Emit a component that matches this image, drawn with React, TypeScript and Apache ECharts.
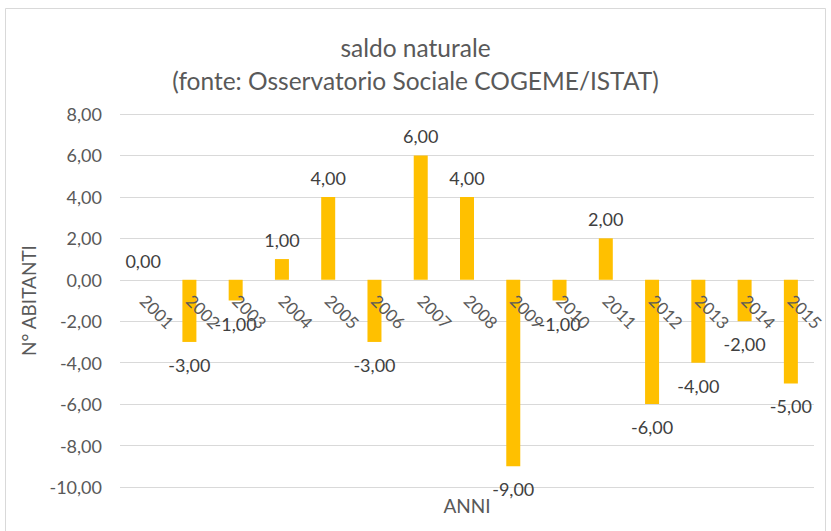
import React, { useEffect, useRef } from "react";
import * as echarts from "echarts";

const years = ["2001","2002","2003","2004","2005","2006","2007","2008","2009","2010","2011","2012","2013","2014","2015"];
const saldo = [0, -3, -1, 1, 4, -3, 6, 4, -9, -1, 2, -6, -4, -2, -5];
const yMin = -10;
const yMax = 8;
const yStep = 2;

const fmt = (v: number) => v.toFixed(2).replace(".", ",");
const FONT = "Lato, 'Open Sans', sans-serif";

const GRID_TOP = 114;
const GRID_BOTTOM = 44;
const H = 531;

export default function App() {
  const ref = useRef<HTMLDivElement>(null);
  useEffect(() => {
    if (!ref.current) return;
    const chart = echarts.init(ref.current, null, { renderer: "svg" });
    const plotH = H - GRID_TOP - GRID_BOTTOM;
    const zeroFromBottom = (plotH * (0 - yMin)) / (yMax - yMin);
    chart.setOption({
      animation: false,
      backgroundColor: "#ffffff",
      textStyle: { fontFamily: FONT },
      title: {
        text: "saldo naturale\n(fonte: Osservatorio Sociale COGEME/ISTAT)",
        left: "center",
        top: 26,
        textStyle: { fontFamily: FONT, fontSize: 24.5, fontWeight: "normal", color: "#595959", lineHeight: 33 },
      },
      graphic: [
        {
          type: "rect",
          shape: { x: 5.5, y: 8.5, width: 820, height: 540 },
          style: { fill: "none", stroke: "#d9d9d9", lineWidth: 1 },
          silent: true,
        },
        {
          type: "text",
          x: 467,
          y: 505,
          style: { text: "ANNI", fill: "#595959", font: `19px ${FONT}`, textAlign: "center", textVerticalAlign: "middle" },
        },
      ],
      grid: { left: 120, right: 17, top: GRID_TOP, bottom: GRID_BOTTOM },
      xAxis: {
        type: "category",
        data: years,
        offset: -zeroFromBottom,
        z: 10,
        axisLine: { show: false, onZero: false },
        axisTick: { show: false },
        axisLabel: { rotate: -45, margin: 18, fontSize: 17, color: "#595959", fontFamily: FONT },
      },
      yAxis: {
        type: "value",
        min: yMin,
        max: yMax,
        interval: yStep,
        name: "N° ABITANTI",
        nameLocation: "middle",
        nameGap: 82,
        nameTextStyle: { fontSize: 19, color: "#595959", fontFamily: FONT },
        axisLine: { show: false },
        axisTick: { show: false },
        splitLine: { lineStyle: { color: "#d9d9d9" } },
        axisLabel: { formatter: (v: number) => fmt(v), fontSize: 18, color: "#595959", margin: 18, fontFamily: FONT },
      },
      series: [
        {
          type: "bar",
          barWidth: 14,
          itemStyle: { color: "#FFC000" },
          data: saldo.map((v) => ({
            value: v,
            label: {
              show: true,
              position: v < 0 ? "bottom" : "top",
              distance: v < 0 ? 14 : 10,
              formatter: () => fmt(v),
              fontSize: 18,
              color: "#404040",
              fontFamily: FONT,
            },
          })),
        },
      ],
    });
    return () => chart.dispose();
  }, []);
  return <div ref={ref} style={{ position: "fixed", left: 0, top: 0, width: 831, height: 531 }} />;
}
